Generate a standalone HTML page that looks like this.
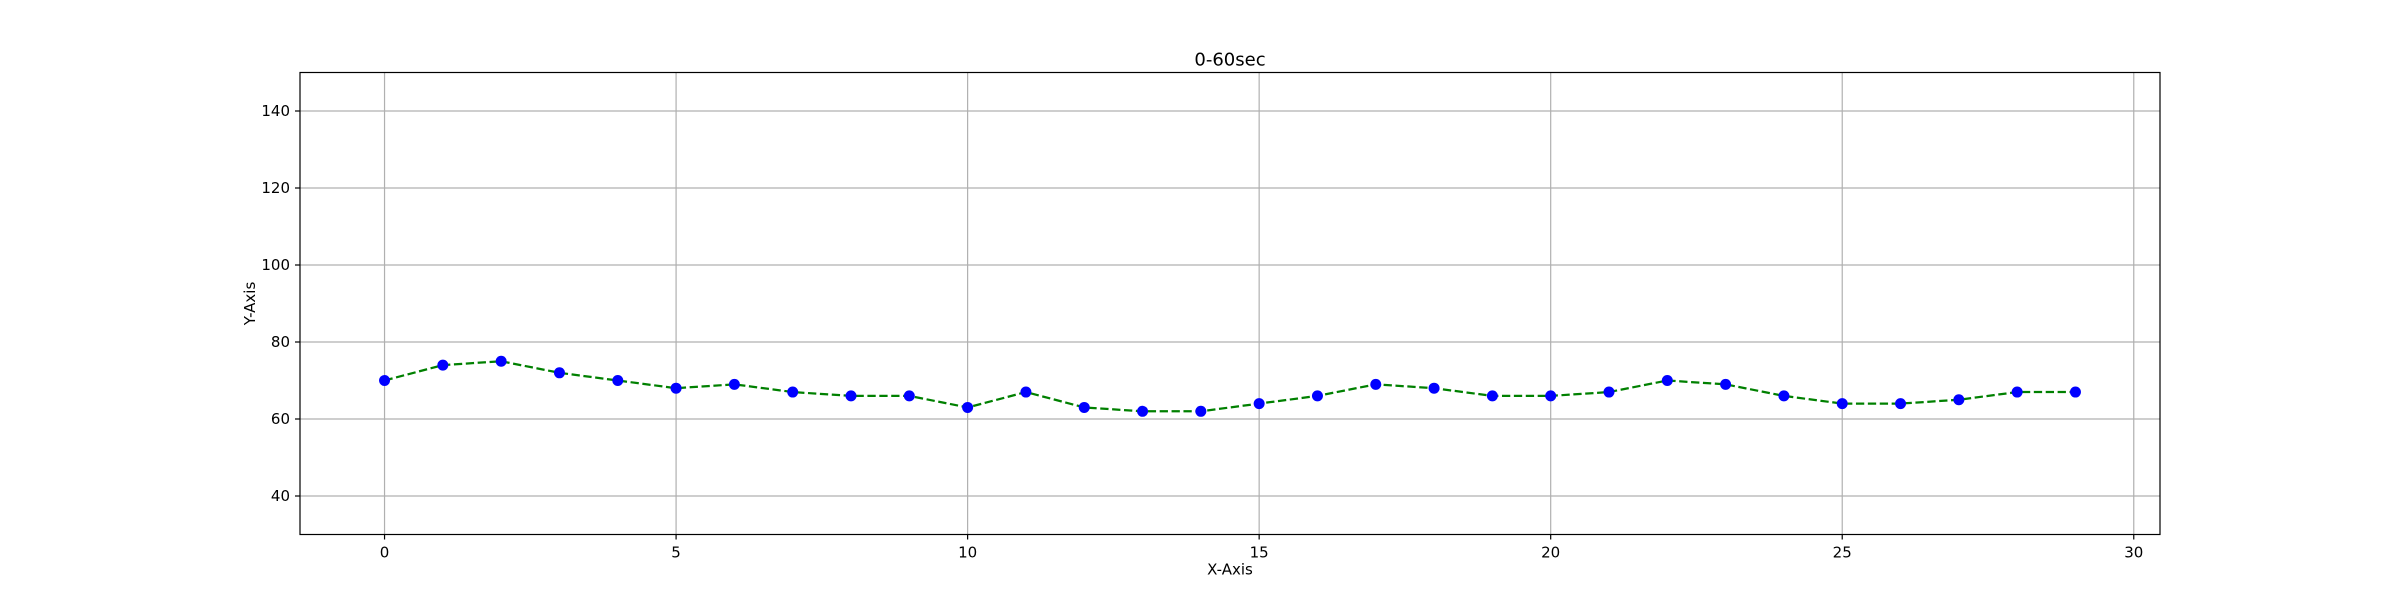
<!DOCTYPE html>
<html><head><meta charset="utf-8"><style>body{margin:0;background:#fff}svg{display:block;font-family:"DejaVu Sans","Liberation Sans",sans-serif}</style></head>
<body>
<svg id="chart" width="2400" height="600"></svg>
<script>
const xValues=[0,1,2,3,4,5,6,7,8,9,10,11,12,13,14,15,16,17,18,19,20,21,22,23,24,25,26,27,28,29];
const yValues=[70,74,75,72,70,68,69,67,66,66,63,67,63,62,62,64,66,69,68,66,66,67,70,69,66,64,64,65,67,67];
const xTicks=[0,5,10,15,20,25,30];
const yTicks=[40,60,80,100,120,140];
const L=300,R=2160,T=72.5,B=534.5,xmin=-1.45,xmax=30.45,ymin=30,ymax=150;
const sx=v=>L+(v-xmin)/(xmax-xmin)*(R-L);
const sy=v=>B-(v-ymin)/(ymax-ymin)*(B-T);
const svg=document.getElementById('chart');const NS='http://www.w3.org/2000/svg';
function mk(t,a,txt){const e=document.createElementNS(NS,t);for(const k in a)e.setAttribute(k,a[k]);if(txt!==undefined)e.textContent=txt;svg.appendChild(e);return e;}
xTicks.forEach(v=>{const x=sx(v);
const g=mk('line',{x1:x,x2:x,y1:T,y2:B,stroke:'#b0b0b0','stroke-width':1.2});


const t=mk('line',{x1:x,x2:x,y1:B,y2:B+5,stroke:'#000','stroke-width':1.2});


const l=mk('text',{x:x,y:B+23,'font-size':15,'text-anchor':'middle'},String(v));

});
yTicks.forEach(v=>{const y=sy(v);
const g=mk('line',{x1:L,x2:R,y1:y,y2:y,stroke:'#b0b0b0','stroke-width':1.2});


const t=mk('line',{x1:L-5,x2:L,y1:y,y2:y,stroke:'#000','stroke-width':1.2});


const l=mk('text',{x:L-10,y:y+5,'font-size':15,'text-anchor':'end'},String(v));

});
const pts=xValues.map((x,i)=>sx(x)+','+sy(yValues[i])).join(' ');
const pl=mk('polyline',{points:pts,fill:'none',stroke:'#008000','stroke-width':2.25,'stroke-dasharray':'8.3,3.6'});


xValues.forEach((x,i)=>{const c=mk('circle',{cx:sx(x),cy:sy(yValues[i]),r:5.5,fill:'#0000ff'});

});
const f=mk('rect',{x:L,y:T,width:R-L,height:B-T,fill:'none',stroke:'#000','stroke-width':1.2});


const ti=mk('text',{x:(L+R)/2,y:T-7,'font-size':18,'text-anchor':'middle'},'0-60sec');


const xl=mk('text',{x:(L+R)/2,y:B+40,'font-size':15,'text-anchor':'middle'},'X-Axis');


const yl=mk('text',{x:0,y:0,'font-size':15,'text-anchor':'middle',transform:`translate(255,${(T+B)/2}) rotate(-90)`},'Y-Axis');


</script>
</body></html>
